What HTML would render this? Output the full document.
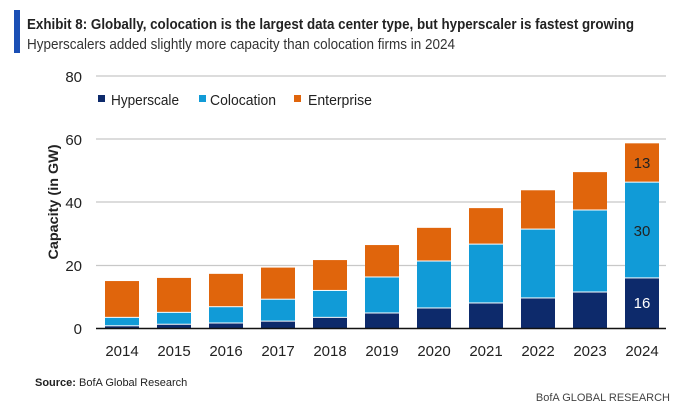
<!DOCTYPE html>
<html><head><style>
body{margin:0;background:#fff;}
svg text{font-family:"Liberation Sans",sans-serif;}
</style></head><body>
<svg width="684" height="409" xmlns="http://www.w3.org/2000/svg">
<rect x="0" y="0" width="684" height="409" fill="#fff"/>
<rect x="14" y="10" width="6" height="43" fill="#1a4fb5"/>
<text x="27" y="29" font-size="14.5" font-weight="bold" fill="#222" textLength="607" lengthAdjust="spacingAndGlyphs">Exhibit 8: Globally, colocation is the largest data center type, but hyperscaler is fastest growing</text>
<text x="27" y="49" font-size="14.5" fill="#333" textLength="428" lengthAdjust="spacingAndGlyphs">Hyperscalers added slightly more capacity than colocation firms in 2024</text>
<g stroke="#c8c8c8" stroke-width="1.3">
<line x1="96" x2="666" y1="76" y2="76"/>
<line x1="96" x2="666" y1="139" y2="139"/>
<line x1="96" x2="666" y1="202" y2="202"/>
<line x1="96" x2="666" y1="265.5" y2="265.5"/>
</g>
<g font-size="15" fill="#222" text-anchor="end">
<text x="82" y="82">80</text><text x="82" y="145">60</text><text x="82" y="208">40</text><text x="82" y="271">20</text><text x="82" y="334">0</text>
</g>
<text transform="translate(58,202) rotate(-90)" font-size="14" font-weight="bold" fill="#222" text-anchor="middle" textLength="115" lengthAdjust="spacingAndGlyphs">Capacity (in GW)</text>
<g font-size="15" fill="#222">
<rect x="98" y="95" width="7" height="7" fill="#0d2a6b"/><text x="111" y="105" textLength="68" lengthAdjust="spacingAndGlyphs">Hyperscale</text>
<rect x="199" y="95" width="7" height="7" fill="#119bd7"/><text x="210" y="105" textLength="66" lengthAdjust="spacingAndGlyphs">Colocation</text>
<rect x="294" y="95" width="7" height="7" fill="#e0650c"/><text x="308" y="105" textLength="64" lengthAdjust="spacingAndGlyphs">Enterprise</text>
</g>
<g id="bars"></g>
<line x1="96" x2="666" y1="328.5" y2="328.5" stroke="#111" stroke-width="1.5"/>
<g font-size="15" fill="#222" text-anchor="middle" id="xl"></g>
<text x="35" y="386" font-size="11" fill="#222"><tspan font-weight="bold">Source:</tspan> BofA Global Research</text>
<text x="670" y="401" font-size="11" fill="#444" text-anchor="end">BofA GLOBAL RESEARCH</text>
<script>
var d=[[15,3.4,0.7],[16,5,1.2],[17.3,6.8,1.6],[19.3,9.2,2.2],[21.7,12,3.4],[26.5,16.3,4.8],[32,21.4,6.4],[38.3,26.8,8],[44,31.6,9.6],[49.8,37.7,11.5],[59,46.6,16]];
var ns="http://www.w3.org/2000/svg",g=document.getElementById('bars'),xl=document.getElementById('xl');
function r(x,y1,y2,c){var e=document.createElementNS(ns,'rect');e.setAttribute('x',x);e.setAttribute('y',y1);e.setAttribute('width',34);e.setAttribute('height',Math.max(0,y2-y1));e.setAttribute('fill',c);g.appendChild(e);}
function Y(v){return 328-v*3.13;}
d.forEach(function(a,i){var x=105+i*52;
r(x,Y(a[0]),Y(a[1])-0.5,'#e0650c');r(x,Y(a[1])+0.5,Y(a[2])-0.5,'#119bd7');r(x,Y(a[2])+0.5,328,'#0d2a6b');
var t=document.createElementNS(ns,'text');t.setAttribute('x',x+17);t.setAttribute('y',356);t.textContent=2014+i;xl.appendChild(t);});
[[13,168,'#222'],[30,236,'#222'],[16,308,'#fff']].forEach(function(a){var t=document.createElementNS(ns,'text');t.setAttribute('x',642);t.setAttribute('y',a[1]);t.setAttribute('font-size','15');t.setAttribute('fill',a[2]);t.setAttribute('text-anchor','middle');t.textContent=a[0];g.appendChild(t);});
</script>
</svg>
</body></html>
